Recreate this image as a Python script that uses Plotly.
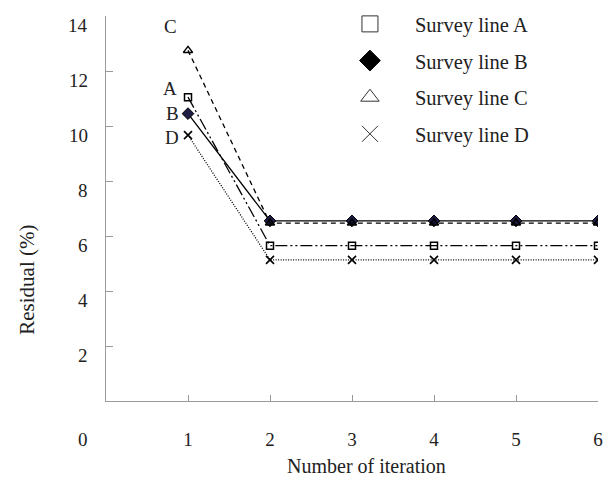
import plotly.graph_objects as go

# Residual (%) per iteration for each survey line
iterations = [1, 2, 3, 4, 5, 6]
line_a = [11.05, 5.65, 5.65, 5.65, 5.65, 5.65]
line_b = [10.45, 6.55, 6.55, 6.55, 6.55, 6.55]
line_c = [12.75, 6.47, 6.47, 6.47, 6.47, 6.47]
line_d = [9.67, 5.13, 5.13, 5.13, 5.13, 5.13]

names = ["Survey line A", "Survey line B", "Survey line C", "Survey line D"]
short = ["A", "B", "C", "D"]
y_ticks = [0, 2, 4, 6, 8, 10, 12, 14]
x_ticks = [1, 2, 3, 4, 5, 6]

FONT = "Liberation Serif, Times New Roman, serif"
AXIS_GRAY = "#9a9a9a"
TEXT = "#222222"

series = [line_a, line_b, line_c, line_d]
styles = [
    dict(dash="12px,3px,2px,3px,2px,3px", symbol="square-open", size=7, color="black", mline=1.5),
    dict(dash="solid", symbol="diamond", size=9, color="#1c1c44", mline=1),
    dict(dash="5px,4px", symbol="triangle-up-open", size=8, color="black", mline=1.5),
    dict(dash="1px,1.5px", symbol="x-thin-open", size=8, color="black", mline=1.6),
]

fig = go.Figure()

for vals, st in zip(series, styles):
    fig.add_trace(go.Scatter(
        x=iterations, y=vals, mode="lines+markers", showlegend=False,
        line=dict(color="black", width=1.3, dash=st["dash"]),
        marker=dict(symbol=st["symbol"], size=st["size"], color=st["color"],
                    line=dict(color="black", width=st["mline"])),
    ))

# Legend entries: large markers only, no lines
legend_marks = [
    dict(symbol="square-open", color="#333333", line=dict(color="#333333", width=1)),
    dict(symbol="diamond", color="black", line=dict(color="black", width=1)),
    dict(symbol="triangle-up-open", color="#333333", line=dict(color="#333333", width=1)),
    dict(symbol="x-thin-open", color="#333333", line=dict(color="#333333", width=1)),
]
for nm, mk in zip(names, legend_marks):
    fig.add_trace(go.Scatter(
        x=[None], y=[None], mode="markers", name=nm, legendgroup=nm,
        marker=dict(size=16, **mk),
    ))

# Series letters next to the first-iteration points
label_shift = {"A": (-18, 9), "B": (-16, 0), "C": (-18, 24), "D": (-16, -2)}
for s, vals in zip(short, series):
    dx, dy = label_shift[s]
    fig.add_annotation(x=iterations[0], y=vals[0], text=s, showarrow=False,
                       xshift=dx, yshift=dy, font=dict(family=FONT, size=19, color=TEXT))

# Residual tick labels sit slightly below their ticks; the zero label drops to the x-label row
for v in y_ticks:
    fig.add_annotation(xref="paper", x=0, y=v, text=str(v), showarrow=False,
                       xanchor="right", yanchor="middle", xshift=-16,
                       yshift=(-38 if v == 0 else -9),
                       font=dict(family=FONT, size=19, color=TEXT))

# Axis titles
fig.add_annotation(xref="paper", yref="paper", x=0.53, y=0, yshift=-65,
                   xanchor="center", yanchor="middle",
                   text="Number of iteration", showarrow=False,
                   font=dict(family=FONT, size=20, color=TEXT))
fig.add_annotation(xref="paper", yref="paper", x=0, xshift=-79, y=0.315,
                   xanchor="center", yanchor="middle",
                   text="Residual (%)", textangle=-90, showarrow=False,
                   font=dict(family=FONT, size=21, color=TEXT))

fig.update_layout(
    width=608, height=480,
    margin=dict(l=106, r=10, t=16, b=79, autoexpand=False),
    paper_bgcolor="white", plot_bgcolor="white",
    font=dict(family=FONT, size=19, color=TEXT),
    legend=dict(x=0.445, y=1.031, xanchor="left", yanchor="top",
                bgcolor="rgba(0,0,0,0)", tracegroupgap=7,
                font=dict(family=FONT, size=20.5, color=TEXT),
                itemwidth=80),
)

fig.update_xaxes(
    range=[0, 6], tickvals=x_ticks, ticktext=[str(v) for v in x_ticks],
    showgrid=False, zeroline=False, showline=True, linecolor=AXIS_GRAY, linewidth=1,
    ticks="inside", ticklen=6, tickcolor=AXIS_GRAY, ticklabelstandoff=21,
    tickfont=dict(family=FONT, size=19, color=TEXT),
)
fig.update_yaxes(
    range=[0, 14], tickvals=y_ticks, showticklabels=False,
    showgrid=False, zeroline=False, showline=True, linecolor=AXIS_GRAY, linewidth=1,
    ticks="inside", ticklen=7, tickcolor=AXIS_GRAY,
)

fig.write_html("out.html")
